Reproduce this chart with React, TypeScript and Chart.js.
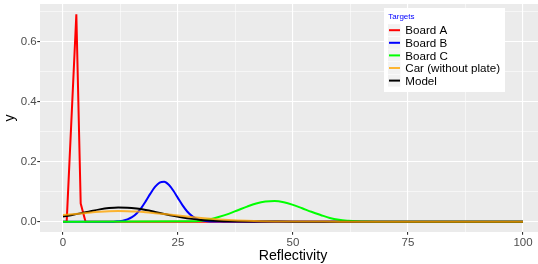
import React, { useEffect, useRef } from 'react';
import { Chart, registerables } from 'chart.js';

Chart.register(...registerables);

const seriesNames = ['Board A', 'Board B', 'Board C', 'Car (without plate)', 'Model'];
const seriesColors = ['#FF0000', '#0000FF', '#00FF00', 'rgba(255,165,0,0.8)', '#000000'];
const legendTitle = 'Targets';

const boardAX = [0, 0.8, 2.9, 3.85, 4.9, 100];
const boardAY = [0, 0, 0.69, 0.06, 0, 0];

const boardBX = [0, 11, 12, 13, 14, 15, 16, 17, 18, 19, 20, 21, 22, 23, 24, 25, 26, 27, 28, 29, 30, 31, 32, 34, 100];
const boardBY = [0, 0, 0.0013, 0.0033, 0.0074, 0.0149, 0.0273, 0.0453, 0.0682, 0.0932, 0.1155, 0.1298, 0.1324, 0.1225, 0.1028, 0.0782, 0.054, 0.0338, 0.0192, 0.0099, 0.0046, 0.002, 0.0008, 0.0001, 0];

const boardCX = [0, 28, 30, 32, 34, 36, 38, 40, 42, 44, 46, 48, 50, 52, 54, 56, 58, 60, 62, 64, 66, 68, 100];
const boardCY = [0, 0.001, 0.003, 0.008, 0.016, 0.026, 0.038, 0.05, 0.0604, 0.0669, 0.0683, 0.0643, 0.0557, 0.0445, 0.0328, 0.0222, 0.012, 0.006, 0.003, 0.0012, 0.0003, 0, 0];

const carX = [0, 2, 4, 6, 8, 10, 12, 14, 16, 18, 20, 22, 24, 26, 28, 30, 32, 34, 36, 38, 40, 43, 46, 50, 55, 60, 100];
const carY = [0.022, 0.0245, 0.027, 0.0302, 0.0326, 0.0343, 0.035, 0.0347, 0.0334, 0.0312, 0.0283, 0.0252, 0.022, 0.0187, 0.0153, 0.0122, 0.0095, 0.0072, 0.0053, 0.0039, 0.0028, 0.0016, 0.0008, 0.0003, 0.0001, 0, 0];

const modelX = [0, 2, 4, 6, 8, 10, 12, 14, 16, 18, 20, 22, 24, 26, 28, 30, 32, 34, 36, 40, 45, 50, 100];
const modelY = [0.017, 0.0222, 0.0283, 0.0349, 0.0408, 0.045, 0.0471, 0.0466, 0.0436, 0.0386, 0.0323, 0.0256, 0.0192, 0.0136, 0.0092, 0.0058, 0.0035, 0.002, 0.0011, 0.0003, 0.0001, 0, 0];

const xTickValues = [0, 25, 50, 75, 100];
const xTickLabels = ['0', '25', '50', '75', '100'];
const xMinorValues = [12.5, 37.5, 62.5, 87.5];
const yTickValues = [0, 0.2, 0.4, 0.6];
const yTickLabels = ['0.0', '0.2', '0.4', '0.6'];
const yMinorValues = [0.1, 0.3, 0.5, 0.7];

const xTitle = 'Reflectivity';
const yTitle = 'y';

const FONT = '"Liberation Sans", Arial, Helvetica, sans-serif';

function pts(xs: number[], ys: number[]) {
  return xs.map((x, i) => ({ x, y: ys[i] }));
}

const panelBg = {
  id: 'panelBg',
  beforeDraw(chart: any) {
    const { ctx, chartArea } = chart;
    ctx.save();
    ctx.fillStyle = '#EBEBEB';
    ctx.fillRect(chartArea.left, chartArea.top, chartArea.right - chartArea.left, chartArea.bottom - chartArea.top);
    ctx.restore();
  },
};

const legendBox = {
  id: 'legendBox',
  afterDraw(chart: any) {
    const ctx = chart.ctx;
    ctx.save();
    ctx.fillStyle = '#FFFFFF';
    ctx.fillRect(384, 8, 121, 84);
    ctx.textAlign = 'left';
    ctx.textBaseline = 'alphabetic';
    ctx.font = `8px ${FONT}`;
    ctx.fillStyle = '#0000FF';
    ctx.fillText(legendTitle, 388.3, 18.5);
    seriesNames.forEach((name, i) => {
      const cy = 30.2 + i * 12.6;
      ctx.fillStyle = '#F2F2F2';
      ctx.fillRect(388, cy - 6, 12.4, 12);
      ctx.strokeStyle = seriesColors[i];
      ctx.lineWidth = 2;
      ctx.beginPath();
      ctx.moveTo(389, cy);
      ctx.lineTo(400, cy);
      ctx.stroke();
      ctx.fillStyle = '#000000';
      ctx.font = `11.6px ${FONT}`;
      ctx.fillText(name, 405.3, cy + 4.1);
    });
    ctx.restore();
  },
};

export default function App() {
  const ref = useRef<HTMLCanvasElement | null>(null);

  useEffect(() => {
    const canvas = ref.current;
    if (!canvas) return;
    document.body.style.margin = '0';
    const xAll = [...xTickValues, ...xMinorValues].sort((a, b) => a - b);
    const yAll = [...yTickValues, ...yMinorValues].sort((a, b) => a - b);
    const isMajorX = (v: number) => xTickValues.includes(v);
    const isMajorY = (v: number) => yTickValues.includes(v);

    const series = [
      { name: seriesNames[3], color: seriesColors[3], data: pts(carX, carY) },
      { name: seriesNames[4], color: seriesColors[4], data: pts(modelX, modelY) },
      { name: seriesNames[2], color: seriesColors[2], data: pts(boardCX, boardCY) },
      { name: seriesNames[1], color: seriesColors[1], data: pts(boardBX, boardBY) },
      { name: seriesNames[0], color: seriesColors[0], data: pts(boardAX, boardAY), sharp: true },
    ];

    const chart = new Chart(canvas, {
      type: 'line',
      data: {
        datasets: series.map((s: any) => ({
          label: s.name,
          data: s.data,
          borderColor: s.color,
          backgroundColor: s.color,
          borderWidth: 2,
          pointRadius: 0,
          fill: false,
          tension: s.sharp ? 0 : 0.4,
          cubicInterpolationMode: s.sharp ? 'default' : 'monotone',
        })),
      },
      options: {
        animation: false,
        responsive: false,
        devicePixelRatio: 1,
        parsing: true,
        layout: { padding: { top: 4, right: 2, bottom: 0, left: 0 } },
        plugins: { legend: { display: false }, tooltip: { enabled: false } },
        scales: {
          x: {
            type: 'linear',
            min: -5,
            max: 105,
            afterBuildTicks: (s: any) => {
              s.ticks = xAll.map((v) => ({ value: v }));
            },
            afterFit: (s: any) => {
              s.height = 32;
              s.paddingLeft = 0;
              s.paddingRight = 0;
            },
            border: { display: false },
            grid: {
              color: '#FFFFFF',
              lineWidth: (c: any) => (c.tick && isMajorX(c.tick.value) ? 1.1 : 0.55),
              tickColor: (c: any) => (c.tick && isMajorX(c.tick.value) ? '#333333' : 'rgba(0,0,0,0)'),
              tickWidth: 1.1,
              tickLength: 2.75,
            },
            ticks: {
              autoSkip: false,
              maxRotation: 0,
              minRotation: 0,
              padding: 1,
              color: '#4D4D4D',
              font: { family: FONT, size: 11.5 },
              callback: (v: any) => {
                const i = xTickValues.indexOf(Number(v));
                return i >= 0 ? xTickLabels[i] : '';
              },
            },
            title: {
              display: true,
              text: xTitle,
              color: '#000000',
              font: { family: FONT, size: 14.2 },
              padding: { top: 0, bottom: -0.8 },
            },
          },
          y: {
            type: 'linear',
            min: -0.0345,
            max: 0.7245,
            afterBuildTicks: (s: any) => {
              s.ticks = yAll.map((v) => ({ value: v }));
            },
            afterFit: (s: any) => {
              s.width = 40;
              s.paddingTop = 0;
              s.paddingBottom = 0;
            },
            border: { display: false },
            grid: {
              color: '#FFFFFF',
              lineWidth: (c: any) => (c.tick && isMajorY(c.tick.value) ? 1.1 : 0.55),
              tickColor: (c: any) => (c.tick && isMajorY(c.tick.value) ? '#333333' : 'rgba(0,0,0,0)'),
              tickWidth: 1.1,
              tickLength: 2.75,
            },
            ticks: {
              autoSkip: false,
              padding: 0.5,
              color: '#4D4D4D',
              font: { family: FONT, size: 11.5 },
              callback: (v: any) => {
                const i = yTickValues.indexOf(Number(v));
                return i >= 0 ? yTickLabels[i] : '';
              },
            },
            title: {
              display: true,
              text: yTitle,
              color: '#000000',
              font: { family: FONT, size: 14.2 },
              padding: { top: 2, bottom: 0 },
            },
          },
        },
      } as any,
      plugins: [panelBg, legendBox],
    });
    return () => chart.destroy();
  }, []);

  return (
    <div style={{ position: 'fixed', left: 0, top: 0, width: 538, height: 264, overflow: 'hidden', background: '#FFFFFF' }}>
      <canvas ref={ref} width={548} height={264} style={{ width: 548, height: 264, display: 'block' }} />
    </div>
  );
}
